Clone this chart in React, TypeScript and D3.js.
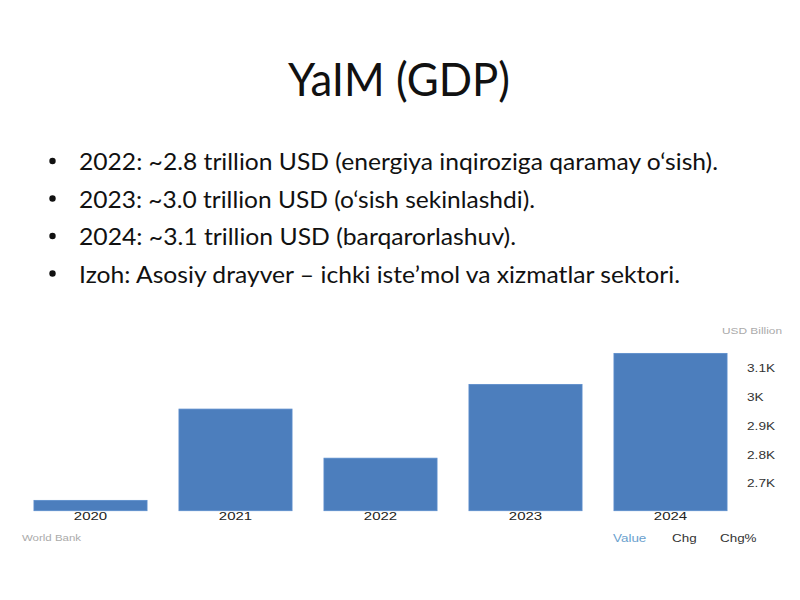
import {useEffect, useRef} from "react"

import * as d3 from "d3"

// chart values (USD billion)
const years = ["2020", "2021", "2022", "2023", "2024"]
const gdp = [2641, 2959, 2788, 3045, 3153]
const yTicks = [2700, 2800, 2900, 3000, 3100]
const legendItems = ["Value", "Chg", "Chg%"]

const title = "YaIM (GDP)"
const bullets = [
  "2022: ~2.8 trillion USD (energiya inqiroziga qaramay o‘sish).",
  "2023: ~3.0 trillion USD (o‘sish sekinlashdi).",
  "2024: ~3.1 trillion USD (barqarorlashuv).",
  "Izoh: Asosiy drayver – ichki iste’mol va xizmatlar sektori.",
]
const bulletWidths = [639, 456, 437, 601]

const slideFont = "Lato, 'Open Sans', sans-serif"
const chartFont = "'Liberation Sans', Arial, sans-serif"

// the chart in the slide is a stretched picture, so its text is wider than normal
const stretch = (sel: d3.Selection<any, any, any, any>, factor: number) => {
  sel.each(function (this: SVGTextElement) {
    const w = this.getComputedTextLength()
    d3.select(this)
      .attr("textLength", w * factor)
      .attr("lengthAdjust", "spacingAndGlyphs")
  })
}

const App = (): JSX.Element => {
  const ref = useRef<SVGSVGElement>(null)

  useEffect(() => {
    if (!ref.current) return
    const svg = d3.select(ref.current)
    svg.selectAll("*").remove()

    svg.append("rect").attr("width", 800).attr("height", 600).attr("fill", "#fff")

    // title
    svg
      .append("text")
      .attr("x", 399)
      .attr("y", 96)
      .attr("text-anchor", "middle")
      .attr("font-family", slideFont)
      .attr("font-size", 46)
      .attr("fill", "#111")
      .attr("textLength", 222)
      .attr("lengthAdjust", "spacingAndGlyphs")
      .text(title)

    // bullets
    const bulletGroup = svg.append("g")
    bullets.forEach((line, i) => {
      const baseline = 170 + i * 37.5
      bulletGroup
        .append("circle")
        .attr("cx", 52.5)
        .attr("cy", baseline - 9)
        .attr("r", 3.2)
        .attr("fill", "#111")
      bulletGroup
        .append("text")
        .attr("x", 79)
        .attr("y", baseline)
        .attr("font-family", slideFont)
        .attr("font-size", 23)
        .attr("fill", "#111")
        .attr("textLength", bulletWidths[i])
        .attr("lengthAdjust", "spacingAndGlyphs")
        .text(line)
    })

    // chart
    const x = d3
      .scaleBand()
      .domain(years)
      .range([18, 743])
      .paddingInner(0.22)
      .paddingOuter(0.11)

    const y = d3.scaleLinear().domain([2605, 3100]).range([510.7, 368.6])

    const chart = svg.append("g")

    chart
      .selectAll("rect.bar")
      .data(years)
      .join("rect")
      .attr("class", "bar")
      .attr("x", (d) => x(d) ?? 0)
      .attr("width", x.bandwidth())
      .attr("y", (_, i) => y(gdp[i]))
      .attr("height", (_, i) => y(2605) - y(gdp[i]))
      .attr("fill", "#4c7ebd")
      .attr("stroke", "#5a8ccc")
      .attr("stroke-width", 0.8)

    const yearLabels = chart
      .selectAll("text.year")
      .data(years)
      .join("text")
      .attr("class", "year")
      .attr("x", (d) => (x(d) ?? 0) + x.bandwidth() / 2)
      .attr("y", 516)
      .attr("dy", "0.35em")
      .attr("text-anchor", "middle")
      .attr("font-family", chartFont)
      .attr("font-size", 11.5)
      .attr("fill", "#222")
      .text((d) => d)
    stretch(yearLabels, 1.3)

    const fmt = (v: number) => `${+(v / 1000).toFixed(1)}K`
    const tickLabels = chart
      .selectAll("text.tick")
      .data(yTicks)
      .join("text")
      .attr("class", "tick")
      .attr("x", 747)
      .attr("y", (d) => y(d))
      .attr("dy", "0.35em")
      .attr("font-family", chartFont)
      .attr("font-size", 11)
      .attr("fill", "#333")
      .text(fmt)
    stretch(tickLabels, 1.24)

    chart
      .append("text")
      .attr("x", 722)
      .attr("y", 331)
      .attr("dy", "0.35em")
      .attr("font-family", chartFont)
      .attr("font-size", 8.5)
      .attr("fill", "#aaa")
      .attr("textLength", 60)
      .attr("lengthAdjust", "spacingAndGlyphs")
      .text("USD Billion")

    chart
      .append("text")
      .attr("x", 22)
      .attr("y", 538)
      .attr("dy", "0.35em")
      .attr("font-family", chartFont)
      .attr("font-size", 8.5)
      .attr("fill", "#aaa")
      .attr("textLength", 59)
      .attr("lengthAdjust", "spacingAndGlyphs")
      .text("World Bank")

    const legendX = [613, 672, 720]
    const legend = chart
      .selectAll("text.legend")
      .data(legendItems)
      .join("text")
      .attr("class", "legend")
      .attr("x", (_, i) => legendX[i])
      .attr("y", 538)
      .attr("dy", "0.35em")
      .attr("font-family", chartFont)
      .attr("font-size", 11)
      .attr("fill", (_, i) => (i === 0 ? "#6a9fce" : "#333"))
      .text((d) => d)
    stretch(legend, 1.22)
  }, [])

  return (
    <svg
      ref={ref}
      width={800}
      height={600}
      style={{position: "fixed", top: 0, left: 0, display: "block"}}
    />
  )
}

export default App
